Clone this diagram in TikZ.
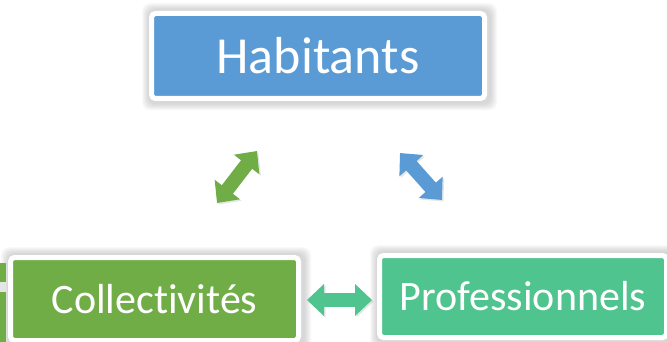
\documentclass[tikz,border=0pt]{standalone}
\usepackage{fontspec}
\setmainfont{Carlito}[Ligatures=NoCommon]
\usetikzlibrary{arrows.meta}
\definecolor{cblue}{HTML}{5B9BD5}
\definecolor{cgreen}{HTML}{70AD47}
\definecolor{cteal}{HTML}{4FC48E}
\pgfdeclarelayer{bg}
\pgfsetlayers{bg,main}
\tikzset{
  boxstyle/.style={draw=white, line width=5pt, rounded corners=4pt, inner sep=0pt,
    text=white},
  shadowlayer/.style={fill=black, opacity=0.025, rounded corners=8pt},
  dblarrow/.style={line width=14pt, draw=#1,
    {Triangle[length=17pt,width=31pt]}-{Triangle[length=17pt,width=31pt]},
    preaction={draw=black, opacity=0.1, transform canvas={shift={(1.5pt,-1.5pt)}}}},
}
\newcommand{\myboxshadow}[1]{%
  \begin{pgfonlayer}{bg}
  \foreach \d in {0,1,2,3,4,5,6}{%
    \fill[shadowlayer] ([shift={(-2.5-\d+1.5,-2.5-\d+0.5)}]#1.north west)
      rectangle ([shift={(2.5+\d+1.5,2.5+\d+1)}]#1.south east);
  }
  \end{pgfonlayer}}
\begin{document}
\begin{tikzpicture}[x=1pt,y=-1pt]
\useasboundingbox (0,0) rectangle (667,342);
% partial box at left edge
\fill[cgreen] (-10,263) rectangle (6,345);
\fill[white!90!black] (-10,282) rectangle (6,292);
\node[boxstyle, fill=cblue, minimum width=333pt, minimum height=85pt,
  font=\fontsize{52}{58}\selectfont] (hab) at (318,56) {Habitants};
\node[boxstyle, fill=cgreen, minimum width=288pt, minimum height=83pt,
  font=\fontsize{42}{48}\selectfont] (col) at (154.5,299) {Collectivités};
\node[boxstyle, fill=cteal, minimum width=287pt, minimum height=82pt,
  font=\fontsize{42}{48}\selectfont] (pro) at (523,296.5) {Professionnels};
\myboxshadow{hab}
\myboxshadow{col}
\myboxshadow{pro}
\coordinate (g1) at (217,203);
\coordinate (g2) at (257,151);
\coordinate (b1) at (400,153);
\coordinate (b2) at (442,200);
\coordinate (t1) at (307,300);
\coordinate (t2) at (372,300);
\draw[dblarrow=cgreen] (g1) -- (g2);
\draw[dblarrow=cblue] (b1) -- (b2);
\draw[dblarrow=cteal] (t1) -- (t2);
\end{tikzpicture}
\end{document}
